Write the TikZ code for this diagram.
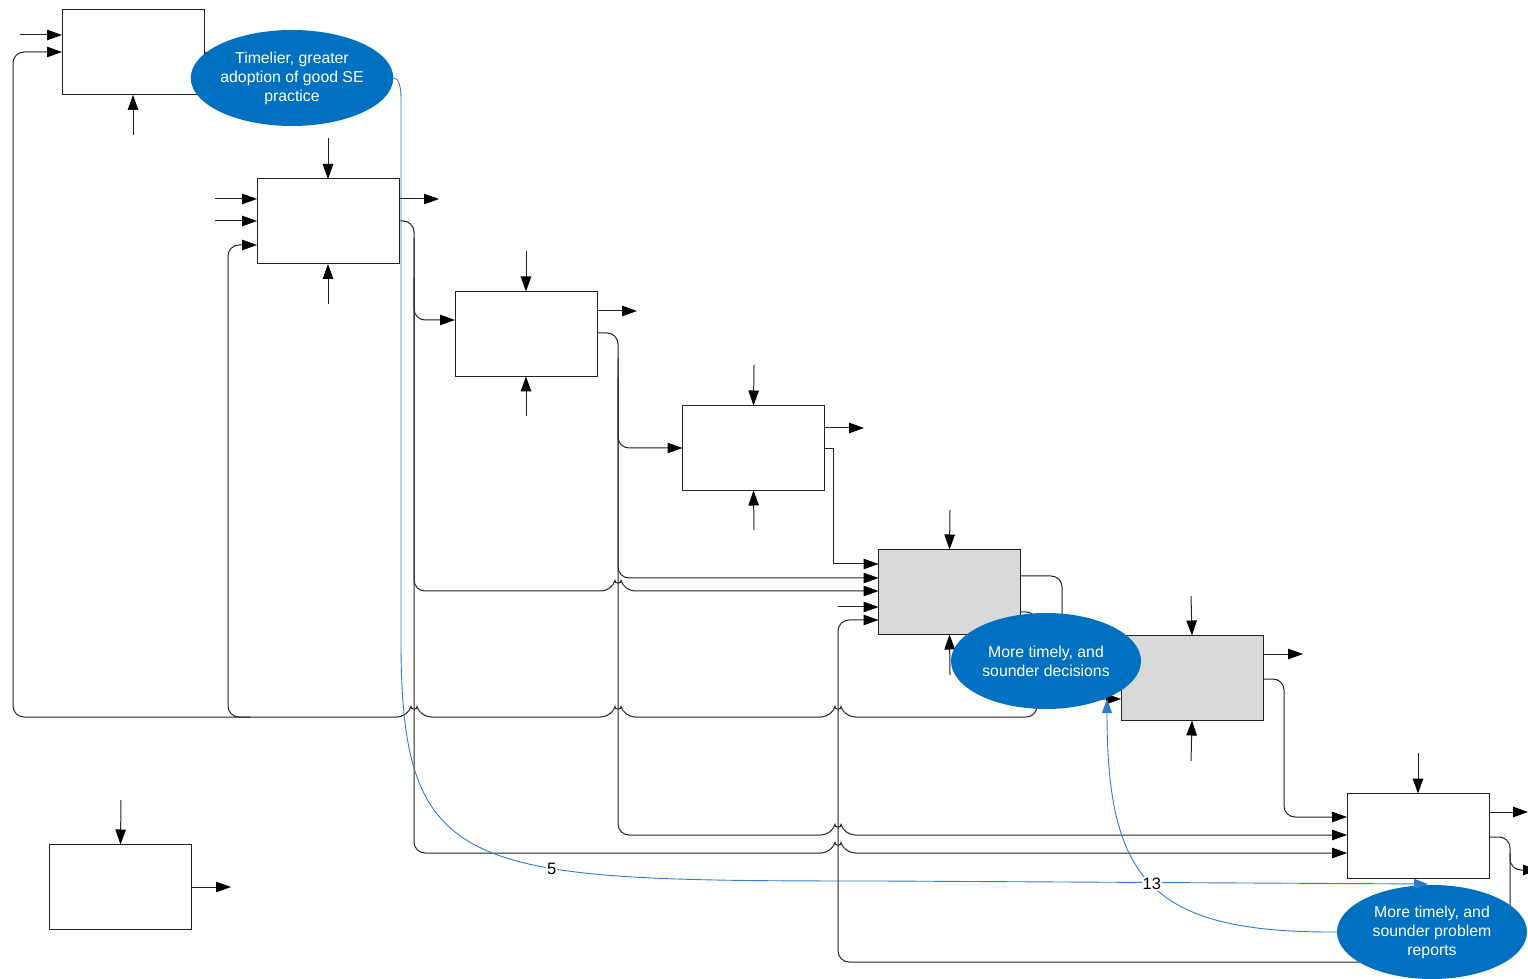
\documentclass[tikz,border=0pt]{standalone}
\usepackage{fontspec}
\setmainfont{Liberation Sans}
\usetikzlibrary{arrows.meta,shapes.geometric}
\definecolor{lineclr}{HTML}{222222}
\definecolor{ovalblue}{HTML}{0070C0}
\definecolor{linkblue}{HTML}{2A7DC9}
\definecolor{shade}{HTML}{D9D9D9}
\begin{document}
\begin{tikzpicture}[x=1pt,y=1pt,
  act/.style={draw=lineclr, line width=1pt, fill=white, minimum width=142pt,
    minimum height=85pt, inner sep=0pt, outer sep=0pt},
  actgray/.style={act, fill=shade},
  oval/.style={ellipse, fill=ovalblue, text=white, minimum width=190pt,
    minimum height=96pt, inner sep=0pt, align=center,
    font=\fontsize{15.8}{19}\selectfont},
  flow/.style={draw=lineclr, line width=1pt},
  arr/.style={flow, -{Triangle[length=15pt,width=10.5pt,fill=black,color=black]}},
  rc/.style={rounded corners=11pt},
  link/.style={draw=linkblue, line width=0.9pt, -{Triangle[length=14pt,width=10pt]}},
  tag/.style={fill=white, inner sep=1pt, font=\fontsize{16.5}{18}\selectfont},
  hopR/.style 2 args={insert path={-- ({#1-6},#2) .. controls ({#1-4},{#2+7}) and ({#1+4},{#2+7}) .. ({#1+6},#2)}},
  hopL/.style 2 args={insert path={-- ({#1+6},#2) .. controls ({#1+4},{#2+7}) and ({#1-4},{#2+7}) .. ({#1-6},#2)}},
]
\useasboundingbox (0,0) rectangle (1528,978);

% activity boxes
\node[act] (A1) at (133,925.5) {};
\node[act] (A2) at (328,756.5) {};
\node[act] (A3) at (526,644) {};
\node[act] (A4) at (753.5,530) {};
\node[actgray] (A5) at (949.5,386) {};
\node[actgray] (A6) at (1192,300) {};
\node[act] (A7) at (1418,142) {};
\node[act] (A8) at (120.5,91) {};

% A1
\draw[arr] (20,943) -- (A1.west |- 0,943);
\draw[arr] (133,843) -- (A1.south);
\draw[flow] (A1.east |- 0,925) -- (240,925);

% A2
\draw[arr] (328,840) -- (A2.north);
\draw[arr] (215,779) -- (A2.west |- 0,779);
\draw[arr] (215,757) -- (A2.west |- 0,757);
\draw[arr] (328,674) -- (A2.south);
\draw[arr] (A2.east |- 0,779) -- (439,779);
\draw[arr,rc] (A2.east |- 0,757) -- (414,757) -- (414,658) -- (A3.west |- 0,658);
\draw[arr,rc] (414,740) -- (414,387) [hopR={618}{387}] -- (A5.west |- 0,387);
\draw[arr,rc] (414,700) -- (414,125) [hopR={838}{125}] -- (A7.west |- 0,125);

% A3
\draw[arr] (526,727) -- (A3.north);
\draw[arr] (526,562) -- (A3.south);
\draw[arr] (A3.east |- 0,667) -- (637,667);
\draw[arr,rc] (A3.east |- 0,645) -- (618,645) -- (618,530) -- (A4.west |- 0,530);
\draw[arr,rc] (618,620) -- (618,400) -- (A5.west |- 0,400);
\draw[arr,rc] (618,600) -- (618,143) [hopR={838}{143}] -- (A7.west |- 0,143);

% A4
\draw[arr] (754,613) -- (A4.north);
\draw[arr] (754,448) -- (A4.south);
\draw[arr] (A4.east |- 0,550) -- (864,550);
\draw[arr] (A4.east |- 0,529) -- (833,529) -- (833,414) -- (A5.west |- 0,414);

% A5
\draw[arr] (950,468) -- (A5.north);
\draw[arr] (950,303) -- (A5.south);
\draw[arr] (838,371) -- (A5.west |- 0,371);
\draw[arr,rc] (A5.east |- 0,402) -- (1062,402) -- (1062,279) -- (A6.west |- 0,279);
\draw[arr,rc] (A5.east |- 0,366) -- (1037,366) -- (1037,261)
  [hopL={838}{261}] [hopL={618}{261}] [hopL={414}{261}]
  -- (13,261) -- (13,926) -- (A1.west |- 0,926);
\draw[arr,rc] (250,261) -- (228,261) -- (228,733) -- (A2.west |- 0,733);

% A6
\draw[arr] (1191,382) -- (A6.north);
\draw[arr] (1191,217) -- (A6.south);
\draw[arr] (A6.east |- 0,324) -- (1303,324);
\draw[arr,rc] (A6.east |- 0,299) -- (1284,299) -- (1284,161) -- (A7.west |- 0,161);

% A7
\draw[arr] (1418,225) -- (A7.north);
\draw[arr] (A7.east |- 0,166) -- (1528,166);
\draw[arr,rc] (A7.east |- 0,141) -- (1510,141) -- (1510,16) -- (838,16) -- (838,358) -- (A5.west |- 0,358);
\draw[arr,rc] (1510,125) -- (1510,108) -- (1538,108);

% A8
\draw[arr] (121,178) -- (A8.north);
\draw[arr] (A8.east |- 0,91) -- (231,91);

% outcome ovals
\node[oval] (E1) at (292,900) {Timelier, greater\\adoption of good SE\\practice};
\node[oval] (E2) at (1046,317) {More timely, and\\sounder decisions};
\node[oval, minimum height=94pt] (E3) at (1432,46) {More timely, and\\sounder problem\\reports};

% links between outcomes
\draw[link] (E1.east) .. controls (398,900) and (401,893) .. (401,880) -- (401,328)
  .. controls (403,100) and (470,97) .. (880,97) node[tag, pos=0.63] {5} -- (1428,94);
\draw[link] (E3.west) .. controls (1150,45) and (1107,98) .. (1107,279) node[tag, pos=0.5] {13};
\end{tikzpicture}
\end{document}
